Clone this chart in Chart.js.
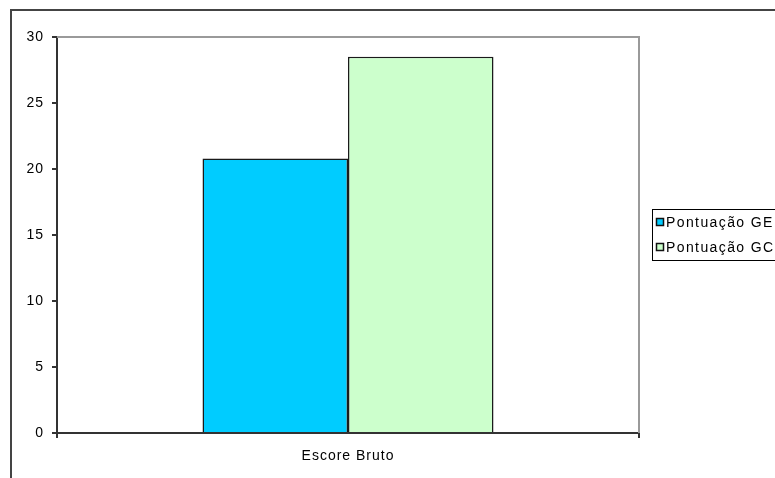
<!DOCTYPE html>
<html>
<head>
<meta charset="utf-8">
<script src="https://cdn.jsdelivr.net/npm/chart.js@4"></script>
<style>
  html, body { margin: 0; padding: 0; background: #fff; }
  #wrap { width: 775px; height: 478px; position: relative; }
</style>
</head>
<body>
<div id="wrap"><canvas id="c" width="775" height="478"></canvas></div>
<script>
// Chart data
const categories = ['Escore Bruto'];
const seriesLabels = ['Pontuação GE', 'Pontuação GC'];
const scoreGE = [20.8];
const scoreGC = [28.5];
const seriesColors = ['#00CCFF', '#CCFFCC'];
const yMin = 0;
const yMax = 30;
const yStep = 5;

const FONT = { family: "'Liberation Sans', Arial, sans-serif", size: 14 };

// Outer frame, plot-area border, and letter spacing for the Excel-like text
const framePlugin = {
  id: 'frame',
  beforeDraw(chart) {
    const ctx = chart.ctx;
    ctx.letterSpacing = '1px';
    ctx.save();
    ctx.fillStyle = '#fff';
    ctx.fillRect(0, 0, chart.width, chart.height);
    ctx.strokeStyle = '#444';
    ctx.lineWidth = 2;
    ctx.beginPath();
    ctx.moveTo(11, chart.height);
    ctx.lineTo(11, 10);
    ctx.lineTo(chart.width, 10);
    ctx.stroke();
    ctx.restore();
  },
  beforeDatasetsDraw(chart) {
    const { ctx, chartArea: a } = chart;
    ctx.save();
    ctx.strokeStyle = '#9a9a9a';
    ctx.lineWidth = 2;
    ctx.beginPath();
    ctx.moveTo(a.left, a.top);
    ctx.lineTo(a.right, a.top);
    ctx.lineTo(a.right, a.bottom);
    ctx.stroke();
    ctx.restore();
  }
};

// Boxed legend on the right-hand side
const boxLegend = {
  id: 'boxLegend',
  afterDraw(chart) {
    const ctx = chart.ctx;
    const x = 652, y = 209, w = 140, rowH = 25;
    const sets = chart.data.datasets;
    ctx.save();
    ctx.letterSpacing = '1.4px';
    ctx.strokeStyle = '#000';
    ctx.lineWidth = 1;
    ctx.strokeRect(x + 0.5, y + 0.5, w, sets.length * rowH + 1);
    ctx.font = `${FONT.size}px ${FONT.family}`;
    ctx.textBaseline = 'middle';
    sets.forEach((ds, i) => {
      const cy = y + 13 + i * rowH;
      ctx.fillStyle = ds.backgroundColor;
      ctx.fillRect(656, cy - 4, 8, 8);
      ctx.strokeStyle = '#111';
      ctx.lineWidth = 1.5;
      ctx.strokeRect(656.5, cy - 3.5, 7, 7);
      ctx.fillStyle = '#000';
      ctx.fillText(ds.label, 666, cy + 1);
    });
    ctx.restore();
  }
};

new Chart(document.getElementById('c'), {
  type: 'bar',
  data: {
    labels: categories,
    datasets: [
      { label: seriesLabels[0], data: scoreGE, backgroundColor: seriesColors[0] },
      { label: seriesLabels[1], data: scoreGC, backgroundColor: seriesColors[1] }
    ]
  },
  options: {
    responsive: false,
    animation: false,
    devicePixelRatio: 1,
    layout: { padding: { left: 0, top: 37, right: 136, bottom: 0 } },
    datasets: {
      bar: {
        categoryPercentage: 0.5,
        barPercentage: 1.0,
        borderWidth: 1.5,
        borderColor: '#1a1a1a'
      }
    },
    plugins: {
      legend: { display: false },
      tooltip: { enabled: false },
      title: { display: false }
    },
    scales: {
      x: {
        offset: true,
        grid: { offset: true, drawOnChartArea: false, drawTicks: true, tickLength: 5, color: '#333', lineWidth: 2 },
        border: { color: '#333', width: 2 },
        ticks: { color: '#000', font: FONT, padding: 10 },
        afterFit(s) { s.height = 45; }
      },
      y: {
        min: yMin,
        max: yMax,
        grid: { drawOnChartArea: false, drawTicks: true, tickLength: 5, color: '#333', lineWidth: 2 },
        border: { color: '#333', width: 2 },
        ticks: { stepSize: yStep, color: '#000', font: FONT, padding: 8 },
        afterFit(s) { s.width = 57; }
      }
    }
  },
  plugins: [framePlugin, boxLegend]
});
</script>
</body>
</html>
